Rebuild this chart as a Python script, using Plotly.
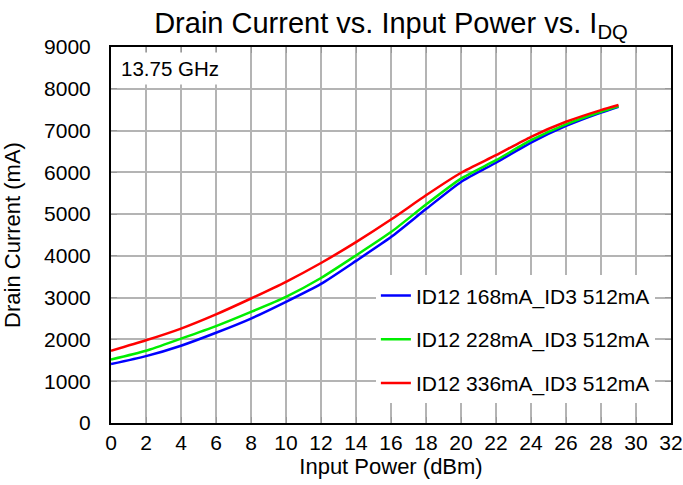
import plotly.graph_objects as go

# Input power sweep (dBm)
pin_dbm = [0, 2, 4, 6, 8, 10, 12, 14, 16, 18, 20, 22, 24, 26, 28, 29]

# Drain current (mA) for each quiescent bias condition
id_168 = [1410, 1600, 1850, 2160, 2500, 2900, 3330, 3880, 4450, 5120, 5770, 6230, 6710, 7110, 7430, 7570]
id_228 = [1520, 1730, 2020, 2320, 2660, 3020, 3470, 4010, 4570, 5230, 5850, 6290, 6770, 7150, 7450, 7580]
id_336 = [1730, 1980, 2260, 2600, 2980, 3380, 3830, 4330, 4870, 5450, 5990, 6410, 6850, 7210, 7490, 7610]

series_names = [
    "ID12 168mA_ID3 512mA",
    "ID12 228mA_ID3 512mA",
    "ID12 336mA_ID3 512mA",
]
series_colors = ["#0000ff", "#00ee00", "#ff0000"]

x_ticks = list(range(0, 33, 2))
y_ticks = list(range(0, 9001, 1000))

FONT = "Liberation Sans, Arial, Helvetica, sans-serif"

fig = go.Figure()
for i, (name, vals, col) in enumerate(zip(series_names, [id_168, id_228, id_336], series_colors)):
    fig.add_trace(go.Scatter(
        x=pin_dbm, y=vals, name=name, mode="lines",
        line=dict(color=col, width=2.5, shape="spline", smoothing=0.6),
        legendgroup=f"g{i}",
    ))

axis_common = dict(
    showgrid=True, gridcolor="#b4b4b4", gridwidth=1.5,
    showline=True, linecolor="black", linewidth=2, mirror="ticks",
    ticks="inside", ticklen=6, tickcolor="#999999", tickwidth=1,
    zeroline=False, automargin=False,
    tickfont=dict(family=FONT, size=21, color="black"),
)

fig.update_layout(
    width=683, height=485,
    margin=dict(l=111, r=12, t=47, b=62),
    paper_bgcolor="white", plot_bgcolor="white",
    font=dict(family=FONT, color="black"),
    title=dict(
        text="Drain Current vs. Input Power vs. I<sub>DQ</sub>",
        x=0.5, xref="paper", xanchor="center",
        y=0.932, yanchor="bottom", yref="container",
        font=dict(family=FONT, size=29, color="black"),
    ),
    xaxis=dict(
        range=[0, 32], tickvals=x_ticks,
        title=dict(text="Input Power (dBm)", font=dict(family=FONT, size=22), standoff=2),
        **axis_common,
    ),
    yaxis=dict(
        range=[0, 9000], tickvals=y_ticks,
        title=dict(text="Drain Current (mA)", font=dict(family=FONT, size=22), standoff=22),
        ticklabelstandoff=14,
        **axis_common,
    ),
    legend=dict(
        x=0.473, y=0.393, xanchor="left", yanchor="top",
        bgcolor="white", borderwidth=0,
        font=dict(family=FONT, size=21, color="black"),
        traceorder="grouped", tracegroupgap=13.5,
        itemwidth=30,
    ),
    showlegend=True,
)

fig.add_annotation(
    text="13.75 GHz", xref="paper", yref="paper",
    x=0.0, y=1.0, xanchor="left", yanchor="top",
    showarrow=False, bgcolor="white",
    borderpad=4, xshift=5, yshift=-5,
    font=dict(family=FONT, size=20.5, color="black"),
)

fig.write_html("out.html")
